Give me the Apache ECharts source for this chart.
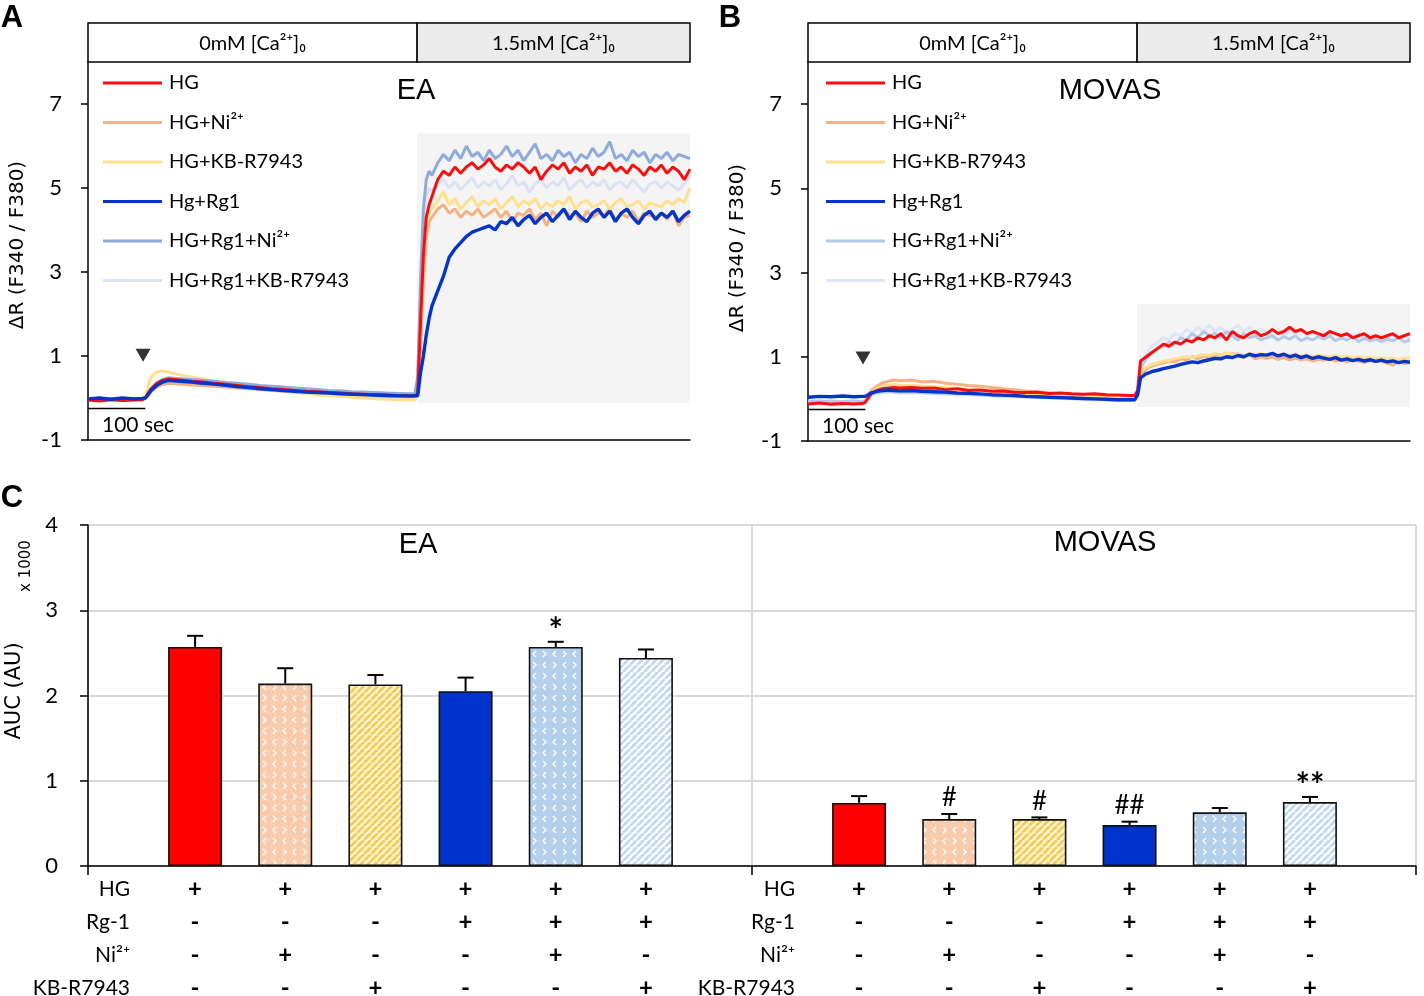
<!DOCTYPE html>
<html><head><meta charset="utf-8">
<script src="https://cdn.jsdelivr.net/npm/echarts@6/dist/echarts.min.js"></script>
<style>html,body{margin:0;padding:0;background:#fff}#c{width:1424px;height:996px}</style>
</head><body><div id="c"></div>
<script>
// ---------- DATA ----------
const timeSec = [0,20,40,60,80,95,100,105,110,120,130,140,150,160,
 180,200,220,240,260,280,300,320,340,360,380,400,420,440,460,480,500,520,540,560,
 570,575,580,585,590,595,
 600,610,620,630,640,650,660,670,680,690,
 700,710,720,730,740,750,760,770,780,790,
 800,810,820,830,840,850,860,870,880,890,
 900,910,920,930,940,950,960,970,980,990,
 1000,1010,1020,1030,1040,1050];
const caSwitchSec = 574;
const timeEndSec = 1050;
const hgAddSec = 96;
const scaleBarSec = 100;
const traceNames = ['HG','HG+Ni²⁺','HG+KB-R7943','Hg+Rg1','HG+Rg1+Ni²⁺','HG+Rg1+KB-R7943'];
const headerLabels = ['0mM [Ca²⁺]₀','1.5mM [Ca²⁺]₀'];

// EA traces (ΔR F340/F380)
const eaHG = [-0.05,-0.07,-0.04,-0.06,-0.05,-0.04,0.0,0.12,0.22,0.35,0.42,0.45,0.44,0.43,
 0.40,0.38,0.35,0.33,0.30,0.27,0.25,0.22,0.20,0.18,0.16,0.15,0.13,0.12,0.10,0.09,0.08,0.07,0.06,0.05,
 0.05,0.10,1.8,3.4,4.3,4.6,
 4.8,5.2,5.4,5.3,5.5,5.35,5.5,5.6,5.45,5.55, 5.7,5.5,5.4,5.55,5.45,5.6,5.5,5.35,5.5,5.2,
 5.4,5.55,5.45,5.6,5.35,5.5,5.4,5.55,5.3,5.5, 5.45,5.6,5.4,5.5,5.35,5.55,5.45,5.3,5.5,5.4,
 5.55,5.35,5.5,5.4,5.2,5.45];
const eaNi = [-0.03,-0.05,-0.02,-0.04,-0.03,-0.04,0.0,0.08,0.15,0.26,0.32,0.35,0.34,0.33,
 0.31,0.30,0.28,0.26,0.24,0.22,0.20,0.18,0.16,0.14,0.12,0.10,0.09,0.07,0.06,0.05,0.04,0.03,0.03,0.02,
 0.03,0.10,1.2,2.8,3.8,4.2,
 4.3,4.5,4.6,4.4,4.5,4.3,4.45,4.35,4.5,4.3, 4.4,4.5,4.3,4.45,4.2,4.4,4.35,4.5,4.25,4.4,
 4.1,4.45,4.3,4.5,4.35,4.4,4.2,4.45,4.3,4.4, 4.35,4.5,4.25,4.4,4.3,4.45,4.2,4.4,4.35,4.3,
 4.4,4.25,4.45,4.1,4.3,4.35];
const eaKB = [-0.02,-0.04,-0.03,-0.05,-0.03,-0.02,0.05,0.30,0.50,0.62,0.65,0.62,0.58,0.55,
 0.50,0.45,0.40,0.36,0.32,0.28,0.24,0.20,0.17,0.14,0.11,0.08,0.06,0.04,0.02,0.00,-0.02,-0.03,-0.04,-0.05,
 -0.05,0.10,1.6,3.3,4.1,4.4,
 4.5,4.7,4.9,4.6,4.75,4.5,4.65,4.8,4.55,4.7, 4.6,4.75,4.5,4.65,4.8,4.55,4.7,4.6,4.75,4.5,
 4.65,4.55,4.7,4.6,4.8,4.5,4.65,4.7,4.55,4.6, 4.7,4.5,4.65,4.75,4.55,4.6,4.7,4.5,4.65,4.6,
 4.55,4.7,4.6,4.75,4.65,5.0];
const eaRg1 = [-0.02,0.00,-0.03,0.00,-0.02,-0.01,0.00,0.08,0.18,0.30,0.38,0.42,0.41,0.40,
 0.38,0.35,0.33,0.30,0.27,0.25,0.22,0.20,0.18,0.16,0.14,0.13,0.12,0.10,0.09,0.08,0.07,0.06,0.05,0.05,
 0.05,0.05,0.6,1.0,1.5,1.9,
 2.2,2.55,2.9,3.35,3.55,3.7,3.85,3.95,4.0,4.05, 4.1,4.0,4.2,4.15,4.3,4.1,4.25,4.35,4.15,4.3,
 4.4,4.2,4.35,4.5,4.25,4.45,4.3,4.2,4.4,4.5, 4.3,4.45,4.2,4.4,4.5,4.3,4.15,4.35,4.45,4.25,
 4.4,4.3,4.45,4.2,4.35,4.45];
const eaRg1Ni = [-0.03,-0.02,-0.04,-0.03,-0.02,-0.03,0.00,0.10,0.22,0.36,0.44,0.48,0.47,0.46,
 0.44,0.42,0.40,0.37,0.35,0.33,0.30,0.28,0.26,0.24,0.22,0.20,0.18,0.17,0.15,0.14,0.13,0.12,0.11,0.10,
 0.10,0.50,2.8,4.5,5.2,5.4,
 5.3,5.6,5.8,5.65,5.9,5.7,6.0,5.75,5.85,5.65, 5.9,5.7,5.8,6.0,5.75,5.9,5.65,5.85,6.05,5.7,
 5.8,5.65,5.9,5.75,5.85,5.6,5.8,5.7,5.95,5.75, 5.85,6.1,5.7,5.8,5.65,5.9,5.75,5.85,5.6,5.8,
 5.7,5.85,5.65,5.8,5.75,5.7];
const eaRg1KB = [-0.04,-0.05,-0.03,-0.05,-0.04,-0.05,-0.02,0.05,0.15,0.28,0.35,0.38,0.38,0.37,
 0.35,0.33,0.31,0.29,0.27,0.25,0.23,0.21,0.19,0.17,0.15,0.14,0.12,0.11,0.10,0.08,0.07,0.06,0.05,0.05,
 0.05,0.30,2.5,4.2,4.8,5.0,
 4.9,5.1,5.2,5.0,5.15,4.95,5.1,5.25,5.0,5.15, 5.05,5.2,4.95,5.1,5.3,5.05,5.15,4.9,5.1,5.2,
 5.0,5.15,5.05,5.25,4.95,5.1,5.2,5.0,5.15,5.05, 5.2,4.95,5.1,5.15,5.0,5.2,5.05,4.9,5.1,5.15,
 5.0,5.15,5.05,4.95,5.1,5.3];

// MOVAS traces
const movHG = [-0.12,-0.10,-0.13,-0.11,-0.12,-0.11,-0.08,0.02,0.12,0.20,0.24,0.26,0.27,0.26,
 0.27,0.25,0.26,0.22,0.24,0.20,0.21,0.18,0.19,0.16,0.15,0.16,0.13,0.14,0.12,0.11,0.12,0.10,0.09,0.08,
 0.08,0.20,0.90,0.95,1.00,1.05,
 1.1,1.2,1.3,1.25,1.35,1.3,1.4,1.35,1.45,1.4, 1.5,1.45,1.55,1.4,1.6,1.5,1.45,1.55,1.6,1.5,
 1.55,1.65,1.55,1.6,1.7,1.6,1.65,1.55,1.6,1.55, 1.5,1.6,1.55,1.5,1.55,1.45,1.5,1.55,1.45,1.5,
 1.45,1.5,1.55,1.45,1.5,1.55];
const movNi = [-0.08,-0.09,-0.07,-0.08,-0.09,-0.08,-0.05,0.08,0.20,0.30,0.38,0.42,0.45,0.43,
 0.45,0.40,0.42,0.37,0.35,0.32,0.30,0.27,0.24,0.22,0.19,0.17,0.14,0.12,0.10,0.08,0.06,0.05,0.03,0.02,
 0.00,0.15,0.60,0.65,0.70,0.75,
 0.78,0.82,0.85,0.9,0.88,0.95,0.92,1.0,0.95,1.02, 0.98,1.05,1.0,0.98,1.08,1.02,0.98,1.05,0.95,1.0,
 0.96,1.0,0.94,0.98,0.92,0.97,0.93,0.95,0.9,0.94, 0.92,0.95,0.9,0.93,0.88,0.92,0.9,0.86,0.91,0.88,
 0.9,0.85,0.8,0.88,0.84,0.86];
const movKB = [-0.07,-0.08,-0.06,-0.08,-0.07,-0.08,-0.04,0.05,0.15,0.24,0.30,0.33,0.34,0.33,
 0.32,0.30,0.29,0.27,0.25,0.23,0.21,0.19,0.17,0.15,0.13,0.11,0.09,0.08,0.06,0.05,0.04,0.03,0.02,0.01,
 0.00,0.15,0.65,0.70,0.75,0.78,
 0.82,0.85,0.9,0.92,0.95,0.98,1.0,0.98,1.02,1.05, 1.03,1.08,1.05,1.1,1.06,1.08,1.04,1.07,1.05,1.08,
 1.04,1.06,1.02,1.05,1.03,1.06,1.02,1.04,1.0,1.03, 1.02,1.0,1.03,0.99,1.01,0.98,1.0,0.97,0.99,0.96,
 0.98,0.95,0.97,0.94,0.96,0.97];
const movRg1 = [0.04,0.06,0.05,0.07,0.05,0.06,0.06,0.10,0.14,0.18,0.20,0.21,0.20,0.19,
 0.20,0.18,0.17,0.16,0.14,0.13,0.12,0.10,0.09,0.08,0.06,0.05,0.04,0.03,0.02,0.01,0.00,-0.01,-0.02,-0.02,
 -0.02,0.10,0.50,0.55,0.60,0.62,
 0.65,0.68,0.72,0.75,0.78,0.82,0.85,0.88,0.86,0.9, 0.93,0.96,0.95,1.0,0.98,1.03,1.0,1.06,1.02,1.05,
 1.04,1.08,1.02,1.06,1.0,1.04,0.98,1.02,0.96,1.0, 0.97,0.94,0.98,0.92,0.95,0.91,0.94,0.9,0.93,0.89,
 0.92,0.88,0.9,0.86,0.89,0.87];
const movRg1Ni = [-0.06,-0.05,-0.07,-0.06,-0.05,-0.06,-0.04,0.04,0.10,0.15,0.17,0.18,0.17,0.16,
 0.16,0.15,0.14,0.13,0.12,0.11,0.10,0.08,0.07,0.06,0.05,0.04,0.03,0.02,0.01,0.00,-0.01,-0.02,-0.03,-0.03,
 -0.03,0.20,0.75,0.85,0.95,1.05,
 1.1,1.2,1.25,1.35,1.3,1.45,1.4,1.55,1.45,1.6, 1.5,1.55,1.45,1.6,1.5,1.4,1.55,1.45,1.5,1.4,
 1.45,1.5,1.4,1.48,1.42,1.5,1.38,1.45,1.4,1.48, 1.42,1.5,1.38,1.45,1.4,1.48,1.36,1.44,1.38,1.42,
 1.36,1.42,1.38,1.45,1.35,1.4];
const movRg1KB = [-0.05,-0.06,-0.04,-0.06,-0.05,-0.06,-0.04,0.03,0.08,0.12,0.14,0.15,0.15,0.14,
 0.14,0.13,0.12,0.11,0.10,0.09,0.08,0.07,0.06,0.05,0.04,0.03,0.02,0.01,0.00,-0.01,-0.02,-0.02,-0.03,-0.03,
 -0.03,0.20,0.85,0.95,1.05,1.15,
 1.25,1.35,1.45,1.4,1.55,1.5,1.65,1.55,1.7,1.6, 1.75,1.6,1.7,1.55,1.65,1.75,1.6,1.7,1.55,1.65,
 1.6,1.55,1.65,1.5,1.6,1.55,1.62,1.5,1.58,1.52, 1.55,1.5,1.58,1.48,1.55,1.5,1.56,1.46,1.52,1.48,
 1.5,1.45,1.52,1.46,1.5,1.44];

// AUC bars (x1000)
const rowLabels = ['HG','Rg-1','Ni²⁺','KB-R7943'];
const rowHG  = ['+','+','+','+','+','+'];
const rowRg1 = ['-','-','-','+','+','+'];
const rowNi  = ['-','+','-','-','+','-'];
const rowKB  = ['-','-','+','-','-','+'];
const eaAUC   = [2.57,2.14,2.13,2.05,2.57,2.44];
const eaSEM   = [0.13,0.18,0.11,0.16,0.06,0.10];
const eaSig   = ['','','','','*',''];
const movAUC  = [0.74,0.55,0.55,0.48,0.63,0.75];
const movSEM  = [0.08,0.06,0.02,0.04,0.05,0.06];
const movSig  = ['','#','#','##','','**'];

// ---------- STYLE ----------
const FONT = "Lato, 'Open Sans', 'Noto Sans', sans-serif";
const colA = ['#f50f0f','#f4b183','#ffe08f','#0534c8','#8faadc','#dae3f3'];
const colB = ['#f50f0f','#f4b183','#ffe08f','#0534c8','#b4c9e8','#dce6f4'];
const shadeA = [-0.12, 6.3];
const shadeB = [-0.19, 2.26];

function stripe(fg, bg){
  const s=7,c=document.createElement('canvas');c.width=s;c.height=s;
  const g=c.getContext('2d');g.fillStyle=bg;g.fillRect(0,0,s,s);
  g.strokeStyle=fg;g.lineWidth=3;
  for(const k of [-s,0,s]){g.beginPath();g.moveTo(k,s);g.lineTo(k+s,0);g.stroke();}
  return {image:c,repeat:'repeat'};
}
function chevron(bg){
  const c=document.createElement('canvas');c.width=20;c.height=22;
  const g=c.getContext('2d');g.fillStyle=bg;g.fillRect(0,0,20,22);
  g.strokeStyle='#ffffff';g.lineWidth=1.3;
  const ch=(x,y,dir)=>{g.beginPath();g.moveTo(x+(dir<0?3:0),y);g.lineTo(x+(dir<0?0:3),y+3);g.lineTo(x+(dir<0?3:0),y+6);g.stroke();};
  ch(3,2,-1);ch(13,2,1);ch(3,13,1);ch(13,13,-1);
  return {image:c,repeat:'repeat'};
}
const barFills = ['#ff0000', chevron('#f8cbad'), stripe('#f2cd5c','#fff6d8'), '#0033cc', chevron('#b4cfea'), stripe('#c6daef','#ffffff')];

const chart = echarts.init(document.getElementById('c'), null, {renderer:'canvas'});

function traceAxes(gi){
  return {
    x: {type:'value', gridIndex:gi, min:0, max:timeEndSec, axisLine:{show:true, onZero:false, lineStyle:{color:'#000', width:1.5}}, axisTick:{show:false}, axisLabel:{show:false}, splitLine:{show:false}},
    y: {type:'value', gridIndex:gi, min:-1, max:8, interval:2,
        axisLine:{show:true, onZero:false, lineStyle:{color:'#000', width:1.5}},
        axisTick:{show:true, length:7, lineStyle:{color:'#000', width:1.5}, customValues:[-1,1,3,5,7]},
        axisLabel:{color:'#000', fontSize:22, fontFamily:FONT, margin:26, customValues:[-1,1,3,5,7], formatter:v=> (v===8?'':String(v))},
        splitLine:{show:false}}
  };
}
const aAx = traceAxes(0), bAx = traceAxes(1);
const hidden = gi => ({type:'value', gridIndex:gi, show:false, min:0, max:1});

const xAxes = [aAx.x, bAx.x,
  {type:'value', gridIndex:2, show:false, min:0, max:timeEndSec},
  {type:'value', gridIndex:3, show:false, min:0, max:timeEndSec},
  {type:'value', gridIndex:4, min:0, max:2, interval:1,
    axisLine:{show:true, onZero:false, lineStyle:{color:'#000', width:1.5}},
    axisTick:{show:true, length:9, lineStyle:{color:'#000', width:1.5}},
    axisLabel:{show:false}, splitLine:{show:true, lineStyle:{color:'#d9d9d9', width:2}}},
];
const yAxes = [aAx.y, bAx.y, hidden(2), hidden(3),
  {type:'value', gridIndex:4, min:0, max:4, interval:1,
    axisLine:{show:true, lineStyle:{color:'#000', width:1.5}},
    axisTick:{show:true, length:8, lineStyle:{color:'#000', width:1.5}},
    axisLabel:{color:'#000', fontSize:22, fontFamily:FONT, margin:30},
    splitLine:{show:true, lineStyle:{color:'#d9d9d9', width:2}}},
];
const cats = rowHG.map((h,i)=>[h,rowRg1[i],rowNi[i],rowKB[i]].join('\n'));
[5,6].forEach(gi=>{
  xAxes.push({type:'category', gridIndex:gi, data:cats, axisLine:{show:false}, axisTick:{show:false},
    axisLabel:{interval:0, color:'#000', fontSize:24, fontWeight:'bold', lineHeight:33, margin:7, fontFamily:FONT}});
  yAxes.push({type:'value', gridIndex:gi, min:0, max:4, show:false});
});

const series = [];
const drawOrder = [5,1,2,4,0,3];
function tracePanel(ax, arrs, cols, shade){
  series.push({type:'custom', xAxisIndex:ax, yAxisIndex:ax, silent:true, z:1,
    data:[[caSwitchSec, timeEndSec, shade[0], shade[1]]],
    renderItem:(p,api)=>{const a=api.coord([api.value(0),api.value(3)]),b=api.coord([api.value(1),api.value(2)]);
      return {type:'rect', shape:{x:a[0],y:a[1],width:b[0]-a[0],height:b[1]-a[1]}, style:{fill:'#f4f4f4'}};}});
  drawOrder.forEach(k=>{
    series.push({type:'line', name:traceNames[k], xAxisIndex:ax, yAxisIndex:ax, z:3+ (k===3?2:0),
      data: timeSec.map((t,i)=>[t, arrs[k][i]]), showSymbol:false, symbol:'none', smooth:false,
      lineStyle:{color:cols[k], width:k===3?3.4:3}, itemStyle:{color:cols[k]}});
  });
  series.push({type:'scatter', xAxisIndex:ax, yAxisIndex:ax, z:6, silent:true,
    data:[[hgAddSec, ax===0?1.02:0.97]], symbol:'triangle', symbolRotate:180, symbolSize:[15,13], itemStyle:{color:'#000'}});
  series.push({type:'custom', xAxisIndex:ax, yAxisIndex:ax, silent:true, z:6,
    data:[[0, scaleBarSec, -0.25]],
    renderItem:(p,api)=>{const a=api.coord([api.value(0),api.value(2)]),b=api.coord([api.value(1),api.value(2)]);
      return {type:'group', children:[
        {type:'line', shape:{x1:a[0],y1:a[1],x2:b[0],y2:b[1]}, style:{stroke:'#000', lineWidth:1.5}},
        {type:'text', style:{text:'100 sec', x:a[0]+14, y:a[1]+17, textAlign:'left', textVerticalAlign:'middle', fontSize:21, fontFamily:FONT, fill:'#000'}}]};}});
}
tracePanel(0, [eaHG,eaNi,eaKB,eaRg1,eaRg1Ni,eaRg1KB], colA, shadeA);
tracePanel(1, [movHG,movNi,movKB,movRg1,movRg1Ni,movRg1KB], colB, shadeB);

[2,3].forEach(ax=>{
  series.push({type:'custom', xAxisIndex:ax, yAxisIndex:ax, silent:true,
    data:[[0, caSwitchSec, 0],[caSwitchSec, timeEndSec, 1]],
    renderItem:(p,api)=>{const a=api.coord([api.value(0),1]),b=api.coord([api.value(1),0]);
      return {type:'group', children:[
        {type:'rect', shape:{x:a[0],y:a[1],width:b[0]-a[0],height:b[1]-a[1]}, style:{fill:api.value(2)?'#ebebeb':'#ffffff', stroke:'#000', lineWidth:1.5}},
        {type:'text', style:{text:headerLabels[p.dataIndex], x:(a[0]+b[0])/2, y:(a[1]+b[1])/2+1, textAlign:'center', textVerticalAlign:'middle', fontSize:20, fontFamily:FONT, fill:'#000'}}]};}});
});

function barPanel(ax, vals, sem, sig){
  series.push({type:'bar', xAxisIndex:ax, yAxisIndex:ax, barWidth:54, z:3,
    data: vals.map((v,i)=>({value:v, itemStyle:{color:barFills[i]}})),
    itemStyle:{borderColor:'#111', borderWidth:1.6}});
  series.push({type:'custom', xAxisIndex:ax, yAxisIndex:ax, z:4, silent:true,
    data: vals.map((v,i)=>[i, v, sem[i]]),
    renderItem:(p,api)=>{const m=api.value(1), e=api.value(2);
      const a=api.coord([api.value(0), m]), b=api.coord([api.value(0), m+e]);
      const s=sig[p.dataIndex], star=s.indexOf('*')>=0;
      return {type:'group', children:[
        {type:'line', shape:{x1:a[0],y1:a[1],x2:b[0],y2:b[1]}, style:{stroke:'#000', lineWidth:2}},
        {type:'line', shape:{x1:b[0]-8,y1:b[1],x2:b[0]+8,y2:b[1]}, style:{stroke:'#000', lineWidth:2}},
        {type:'text', style:{text:s, x:b[0], y:star? b[1]+6 : b[1]-3, textAlign:'center', textVerticalAlign:'bottom', fontSize:star?34:26, fontWeight:star?'bold':'normal', fontFamily:FONT, fill:'#000'}}]};}});
}
barPanel(5, eaAUC, eaSEM, eaSig);
barPanel(6, movAUC, movSEM, movSig);

function legendFor(left, cols){
  return {orient:'vertical', left:left, top:71, padding:0, icon:'rect', itemWidth:59, itemHeight:3, itemGap:15.5,
    selectedMode:false,
    textStyle:{fontSize:20, lineHeight:24, fontFamily:FONT, color:'#000', padding:[0,0,0,2]},
    data: traceNames.map((n,i)=>({name:n, itemStyle:{color:cols[i]}}))};
}

const txt = (text,x,y,o={})=>({type:'text', x:x, y:y, rotation:o.rot||0, silent:true,
  style:{text:text, textAlign:o.align||'center', textVerticalAlign:'middle', fontSize:o.size||20, fontFamily:o.font||FONT, fontWeight:o.weight||'normal', fill:'#000'}});
const graphics = [
  txt('A', 12, 18, {size:31, weight:'bold', font:"'Liberation Sans', Arial, sans-serif"}),
  txt('B', 730, 18, {size:31, weight:'bold', font:"'Liberation Sans', Arial, sans-serif"}),
  txt('C', 12, 498, {size:31, weight:'bold', font:"'Liberation Sans', Arial, sans-serif"}),
  txt('EA', 416, 91, {size:29, font:"'Liberation Sans', Arial, sans-serif"}),
  txt('MOVAS', 1110, 91, {size:29, font:"'Liberation Sans', Arial, sans-serif"}),
  txt('EA', 418, 545, {size:29, font:"'Liberation Sans', Arial, sans-serif"}),
  txt('MOVAS', 1105, 543, {size:29, font:"'Liberation Sans', Arial, sans-serif"}),
  txt('ΔR (F340 / F380)', 18, 245, {size:20, rot:Math.PI/2, font:"'DejaVu Sans', sans-serif"}),
  txt('ΔR (F340 / F380)', 738, 248, {size:20, rot:Math.PI/2, font:"'DejaVu Sans', sans-serif"}),
  txt('AUC (AU)', 15, 691, {size:21, rot:Math.PI/2, font:"'DejaVu Sans', sans-serif"}),
  txt('x 1000', 26, 566, {size:15, rot:Math.PI/2, font:"'DejaVu Sans', sans-serif"}),
];
rowLabels.forEach((r,i)=>{
  graphics.push(txt(r, 130, 889+33*i, {align:'right', size:21}));
  graphics.push(txt(r, 795, 889+33*i, {align:'right', size:21}));
});

const G = (l,t,w,h)=>({left:l, top:t, width:w, height:h, outerBoundsMode:'none', containLabel:false});
chart.setOption({
  animation:false,
  backgroundColor:'#ffffff',
  grid:[
    G(88,62,602,378), G(808,62,602,379), G(88,23,602,39), G(808,23,602,39),
    G(88,525,1328,341), G(150,525,541,341), G(814,525,541,341)
  ],
  xAxis:xAxes, yAxis:yAxes,
  legend:[legendFor(103, colA), legendFor(826, colB)],
  series:series,
  graphic:graphics
});
</script></body></html>
